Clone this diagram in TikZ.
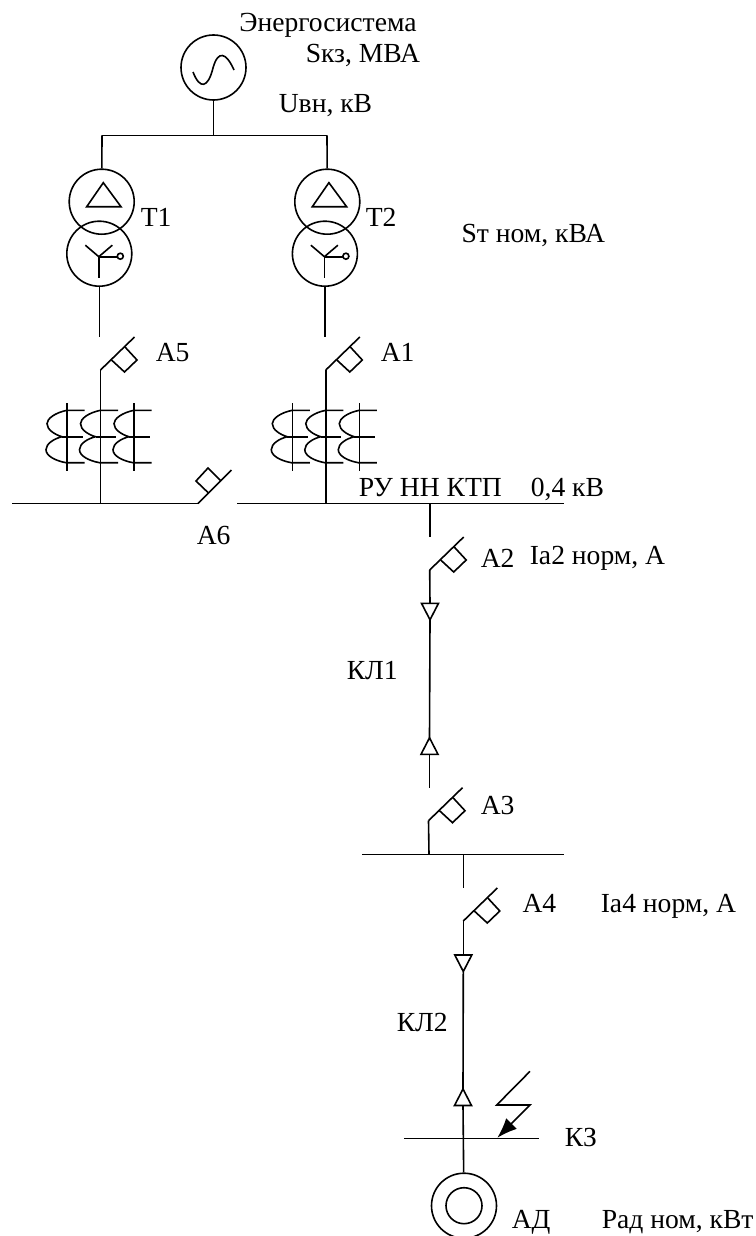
\documentclass[tikz,border=0pt]{standalone}
\usepackage{fontspec}
\setmainfont{Liberation Serif}
\usetikzlibrary{arrows.meta}
\tikzset{
  main/.style = {draw, circle, inner sep=0pt, minimum size=65pt},
  lbl/.style = {inner sep=0pt, anchor=base west, font=\fontsize{27.6}{32}\selectfont},
  breaker/.pic = {
    \coordinate (-low) at (0,0);
    \draw (0,0) -- (34,-33);
    \draw (11,-10) -- (24,2) -- (36.5,-10) -- (24.5,-23);
  },
  breakerup/.pic = {
    \coordinate (-low) at (0,0);
    \draw (0,0) -- (33.5,-33.5);
    \draw (10.5,-10.5) -- (-2,-22.5) -- (10,-35.5) -- (23,-22.5);
  },
  gland/.pic = {
    \coordinate (-base) at (0,0);
    \coordinate (-tip) at (0,16.5);
    \draw (-8.5,0) -- (8.5,0) -- (0,16.5) -- cycle;
  },
  delta/.pic = {
    \draw (1.6,-19) -- (19.3,5) -- (-15,5) -- cycle;
  },
  wye/.pic = {
    \draw (-14,-8.5) -- (-0.5,3) -- (13,-8.5);
    \draw (-0.5,3) -- (-0.5,24.5);
    \draw (-0.5,3) -- (18,3);
    \draw (21,2.5) circle (3);
  },
  ctset/.pic = {
    \foreach \dx in {-33.5,0,33.5} {
      \draw (\dx,-33.5) -- (\dx,34.5);
      \draw (\dx+17.5,-26.4) -- (\dx,-26.4) .. controls (\dx-12,-24) and (\dx-20,-18) .. (\dx-20,-13)
        .. controls (\dx-20,-7) and (\dx-12,-2) .. (\dx-5,0)
        .. controls (\dx-13,2) and (\dx-21,7) .. (\dx-21,13)
        .. controls (\dx-21,19) and (\dx-12,24) .. (\dx-1,26) -- (\dx+17.5,26);
      \draw (\dx-5,0) -- (\dx+15.5,0);
    }
  },
}
\begin{document}
\begin{tikzpicture}[x=1pt, y=-1pt, line width=1.6pt]
\useasboundingbox (0,0) rectangle (755,1236);
% source and high side
\node[main] (gen) at (213.5,67.5) {};
\draw (193,72) .. controls (200,90) and (208,88) .. (213,68) .. controls (218,50) and (226,52) .. (234,70);
\coordinate (hvl) at (102,135.5);
\coordinate (hvm) at (213.5,135.5);
\coordinate (hvr) at (327,135.5);
\draw (gen) -- (hvm);
\draw (hvl) -- (hvr);
% transformers
\node[main] (d1) at (101.7,201.7) {};
\node[main] (y1) [below of=d1, node distance=52pt, xshift=-2.4pt] {};
\node[main] (d2) [right of=d1, node distance=225.6pt] {};
\node[main] (y2) [below of=d2, node distance=52pt, xshift=-2.4pt] {};
\pic at (d1) {delta};
\pic at (d2) {delta};
\pic at (y1) {wye};
\pic at (y2) {wye};
\draw (hvl) -- (d1);
\draw (hvr) -- (d2);
% incoming breakers and busbar
\coordinate (a5in) at (y1 |- 0,337);
\coordinate (a1in) at (y2 |- 0,337);
\pic (a5) at (100.5,370) {breaker};
\pic (a1) at (325.8,370) {breaker};
\draw (y1.south) -- (a5in);
\draw (y2.south) -- (a1in);
\coordinate (bl) at (12,503.5);
\coordinate (ja5) at (100.5,503.5);
\coordinate (ja1) at (325.8,503.5);
\coordinate (br) at (563.5,503.5);
\pic (a6) at (198,503.5) {breakerup};
\coordinate (a6r) at (237,503.5);
\draw (bl) -- (a6-low);
\draw (a6r) -- (br);
\draw (a5-low) -- (ja5);
\draw (a1-low) -- (ja1);
\pic at (100.5,436.7) {ctset};
\pic at (325.8,436.7) {ctset};
% first cable
\coordinate (ja2) at (429.7,503.5);
\coordinate (a2in) at (429.7,537);
\draw (ja2) -- (a2in);
\pic (a2) at (429.7,570) {breaker};
\pic (g1) at (430,603.3) {gland};
\pic[yscale=-1] (g2) at (429.5,754.3) {gland};
\draw (a2-low) -- (g1-base);
\draw (g1-tip) -- (g2-tip);
\coordinate (a3in) at (429.5,787.7);
\draw (g2-base) -- (a3in);
\pic (a3) at (428.5,820.7) {breaker};
\coordinate (sl) at (362.3,854.3);
\coordinate (sm) at (429,854.3);
\coordinate (sr) at (563.7,854.3);
\draw (sl) -- (sr);
\draw (a3-low) -- (sm);
% second cable
\coordinate (ja4) at (463.3,854.3);
\coordinate (a4in) at (463.3,888.3);
\draw (ja4) -- (a4in);
\pic (a4) at (463.3,921) {breaker};
\pic (g3) at (463.3,955) {gland};
\pic[yscale=-1] (g4) at (463,1105.5) {gland};
\draw (a4-low) -- (g3-base);
\draw (g3-tip) -- (g4-tip);
\node[main] (ad) at (464,1205.7) {};
\node[draw, circle, inner sep=0pt, minimum size=36pt] (adin) at (ad) {};
\draw (g4-base) -- (ad);
% fault
\coordinate (kl) at (404,1138.3);
\coordinate (kr) at (539,1138.3);
\draw (kl) -- (kr);
\coordinate (f1) at (530,1071.3);
\coordinate (f2) at (496.7,1105);
\coordinate (f3) at (530,1105);
\coordinate (f4) at (497.3,1137.8);
\draw[-{Latex[length=20pt,width=15pt]}] (f1) -- (f2) -- (f3) -- (f4);
% labels
\node[lbl] (t01) at (238.5,31.7) {Энергосистема};
\node[lbl] (t02) at (305,62.3) {Sкз, МВА};
\node[lbl] (t03) at (278,113) {Uвн, кВ};
\node[lbl] (t04) at (140,226) {Т1};
\node[lbl] (t05) at (365,226) {Т2};
\node[lbl] (t06) at (460.7,242.7) {Sт ном, кВА};
\node[lbl] (t07) at (155,361.7) {А5};
\node[lbl] (t08) at (380,361.7) {А1};
\node[lbl] (t09) at (196,544) {А6};
\node[lbl] (t10) at (358,496.7) {РУ НН КТП};
\node[lbl] (t11) at (530,496.7) {0,4 кВ};
\node[lbl] (t12) at (480,567.7) {А2};
\node[lbl] (t13) at (529,564) {Iа2 норм, А};
\node[lbl] (t14) at (346,679) {КЛ1};
\node[lbl] (t15) at (480,814) {А3};
\node[lbl] (t16) at (521.7,912.7) {А4};
\node[lbl] (t17) at (600,912.7) {Iа4 норм, А};
\node[lbl] (t18) at (396,1031.7) {КЛ2};
\node[lbl] (t19) at (564,1146.7) {КЗ};
\node[lbl] (t20) at (511,1228.3) {АД};
\node[lbl] (t21) at (601,1228.3) {Рад ном, кВт};
\end{tikzpicture}
\end{document}
